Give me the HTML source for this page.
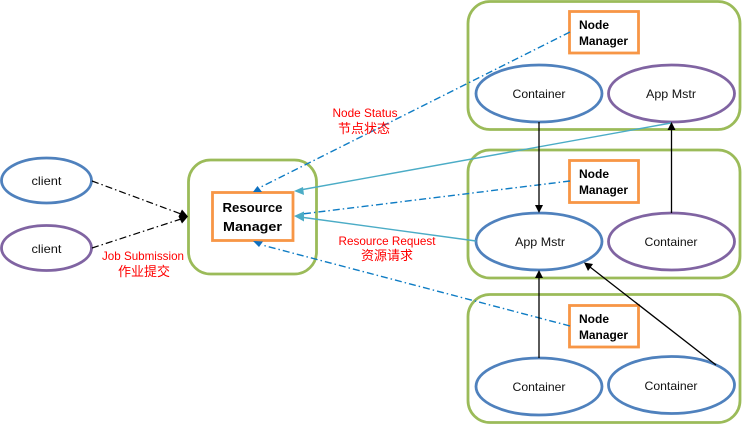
<!DOCTYPE html>
<html>
<head>
<meta charset="utf-8">
<style>
html,body{margin:0;padding:0;background:#fff;width:742px;height:425px;overflow:hidden}
svg{display:block}
text{font-family:"Liberation Sans","Noto Sans CJK SC",sans-serif;font-size:12px;fill:#111;text-anchor:middle}
.b{font-weight:bold;font-size:12px;fill:#000}
.m{font-size:13px}
.l{text-anchor:start}
.r{fill:#f00}
.c{font-size:13px}
.g{fill:none;stroke:#9bbb59;stroke-width:2.8}
.o{fill:#fff;stroke:#f79646;stroke-width:2.8}
.e{fill:#fff;stroke:#4f81bd;stroke-width:2.8}
.p{fill:#fff;stroke:#8064a2;stroke-width:2.8}
</style>
</head>
<body>
<svg width="742" height="425" viewBox="0 0 742 425" xmlns="http://www.w3.org/2000/svg">
<rect class="g" x="468" y="1.5" width="272" height="128" rx="22"/>
<rect class="g" x="468" y="150" width="272" height="128" rx="22"/>
<rect class="g" x="468" y="294.5" width="272" height="128" rx="22"/>
<rect class="g" x="188.500" y="160" width="128" height="114" rx="22"/>

<ellipse class="e" cx="46.500" cy="180.500" rx="45" ry="22.500"/>
<ellipse class="p" cx="46.500" cy="248" rx="45" ry="22.500"/>
<ellipse class="e" cx="539" cy="93.500" rx="63" ry="28.500"/>
<ellipse class="p" cx="671.500" cy="93.500" rx="63" ry="28.500"/>
<ellipse class="e" cx="539" cy="241.500" rx="63" ry="28.500"/>
<ellipse class="p" cx="671.500" cy="241.500" rx="63" ry="28.500"/>
<ellipse class="e" cx="539" cy="386.500" rx="63" ry="28.500"/>
<ellipse class="e" cx="671.500" cy="385" rx="63" ry="28.500"/>

<rect class="o" x="212.500" y="192.500" width="80.500" height="48"/>
<rect class="o" x="569.500" y="11.500" width="69" height="41.500"/>
<rect class="o" x="569.500" y="160.500" width="69" height="42"/>
<rect class="o" x="569.500" y="305.500" width="69" height="41.500"/>

<g fill="none" stroke="#000" stroke-width="1.200" stroke-dasharray="7 3 1.500 3">
<line x1="92" y1="181" x2="181" y2="214"/>
<line x1="92" y1="248" x2="181" y2="219"/>
</g>
<polygon points="188,216.500 182,209.500 178.500,216.500 182,223.500" fill="#000"/>

<g fill="none" stroke="#0e7cc4" stroke-width="1.400" stroke-dasharray="7 3 1.500 3">
<line x1="570" y1="32" x2="259" y2="188"/>
<line x1="570" y1="181" x2="302" y2="214"/>
<line x1="570" y1="326" x2="262" y2="245"/>
</g>
<polygon points="253,192 257.500,186 262,192" fill="#0e70c0"/>
<polygon points="253,241 263,241.500 259,247" fill="#0e70c0"/>

<g fill="none" stroke="#4bacc6" stroke-width="1.400">
<line x1="671" y1="123" x2="300" y2="190"/>
<line x1="476" y1="241" x2="300" y2="217"/>
</g>
<polygon points="294,191 303,187 304,195" fill="#4bacc6"/>
<polygon points="294,216 304,211.500 304,221.500" fill="#4bacc6"/>

<g fill="none" stroke="#000" stroke-width="1.300">
<line x1="539" y1="122" x2="539" y2="206"/>
<line x1="671.500" y1="213" x2="671.500" y2="130"/>
<line x1="539" y1="358" x2="539" y2="278"/>
<line x1="716" y1="365" x2="590" y2="267"/>
</g>
<polygon points="539,213 535,205 543,205" fill="#000"/>
<polygon points="671.500,122 667.500,130 675.500,130" fill="#000"/>
<polygon points="539,270 535,278 543,278" fill="#000"/>
<polygon points="584,262.500 593,264 588,271" fill="#000"/>

<text x="46.500" y="185" textLength="30" lengthAdjust="spacingAndGlyphs">client</text>
<text x="46.500" y="253" textLength="30" lengthAdjust="spacingAndGlyphs">client</text>
<text x="252.500" y="212" class="b m" textLength="60" lengthAdjust="spacingAndGlyphs">Resource</text>
<text x="252.500" y="231" class="b m" textLength="59" lengthAdjust="spacingAndGlyphs">Manager</text>
<text class="b l" x="579" y="29" textLength="30" lengthAdjust="spacingAndGlyphs">Node</text>
<text class="b l" x="579" y="45" textLength="49" lengthAdjust="spacingAndGlyphs">Manager</text>
<text class="b l" x="579" y="178" textLength="30" lengthAdjust="spacingAndGlyphs">Node</text>
<text class="b l" x="579" y="194" textLength="49" lengthAdjust="spacingAndGlyphs">Manager</text>
<text class="b l" x="579" y="323" textLength="30" lengthAdjust="spacingAndGlyphs">Node</text>
<text class="b l" x="579" y="339" textLength="49" lengthAdjust="spacingAndGlyphs">Manager</text>
<text x="539" y="98" textLength="53" lengthAdjust="spacingAndGlyphs">Container</text>
<text x="671" y="98" textLength="50" lengthAdjust="spacingAndGlyphs">App Mstr</text>
<text x="540" y="246" textLength="50" lengthAdjust="spacingAndGlyphs">App Mstr</text>
<text x="671" y="246" textLength="53" lengthAdjust="spacingAndGlyphs">Container</text>
<text x="539" y="391" textLength="53" lengthAdjust="spacingAndGlyphs">Container</text>
<text x="671" y="390" textLength="53" lengthAdjust="spacingAndGlyphs">Container</text>

<text class="r" x="143" y="260" textLength="82" lengthAdjust="spacingAndGlyphs">Job Submission</text>
<text class="r c" x="144" y="276">作业提交</text>
<text class="r" x="365" y="117" textLength="65" lengthAdjust="spacingAndGlyphs">Node Status</text>
<text class="r c" x="364" y="133">节点状态</text>
<text class="r" x="387" y="245" textLength="97" lengthAdjust="spacingAndGlyphs">Resource Request</text>
<text class="r c" x="387" y="260">资源请求</text>
</svg>
</body>
</html>
